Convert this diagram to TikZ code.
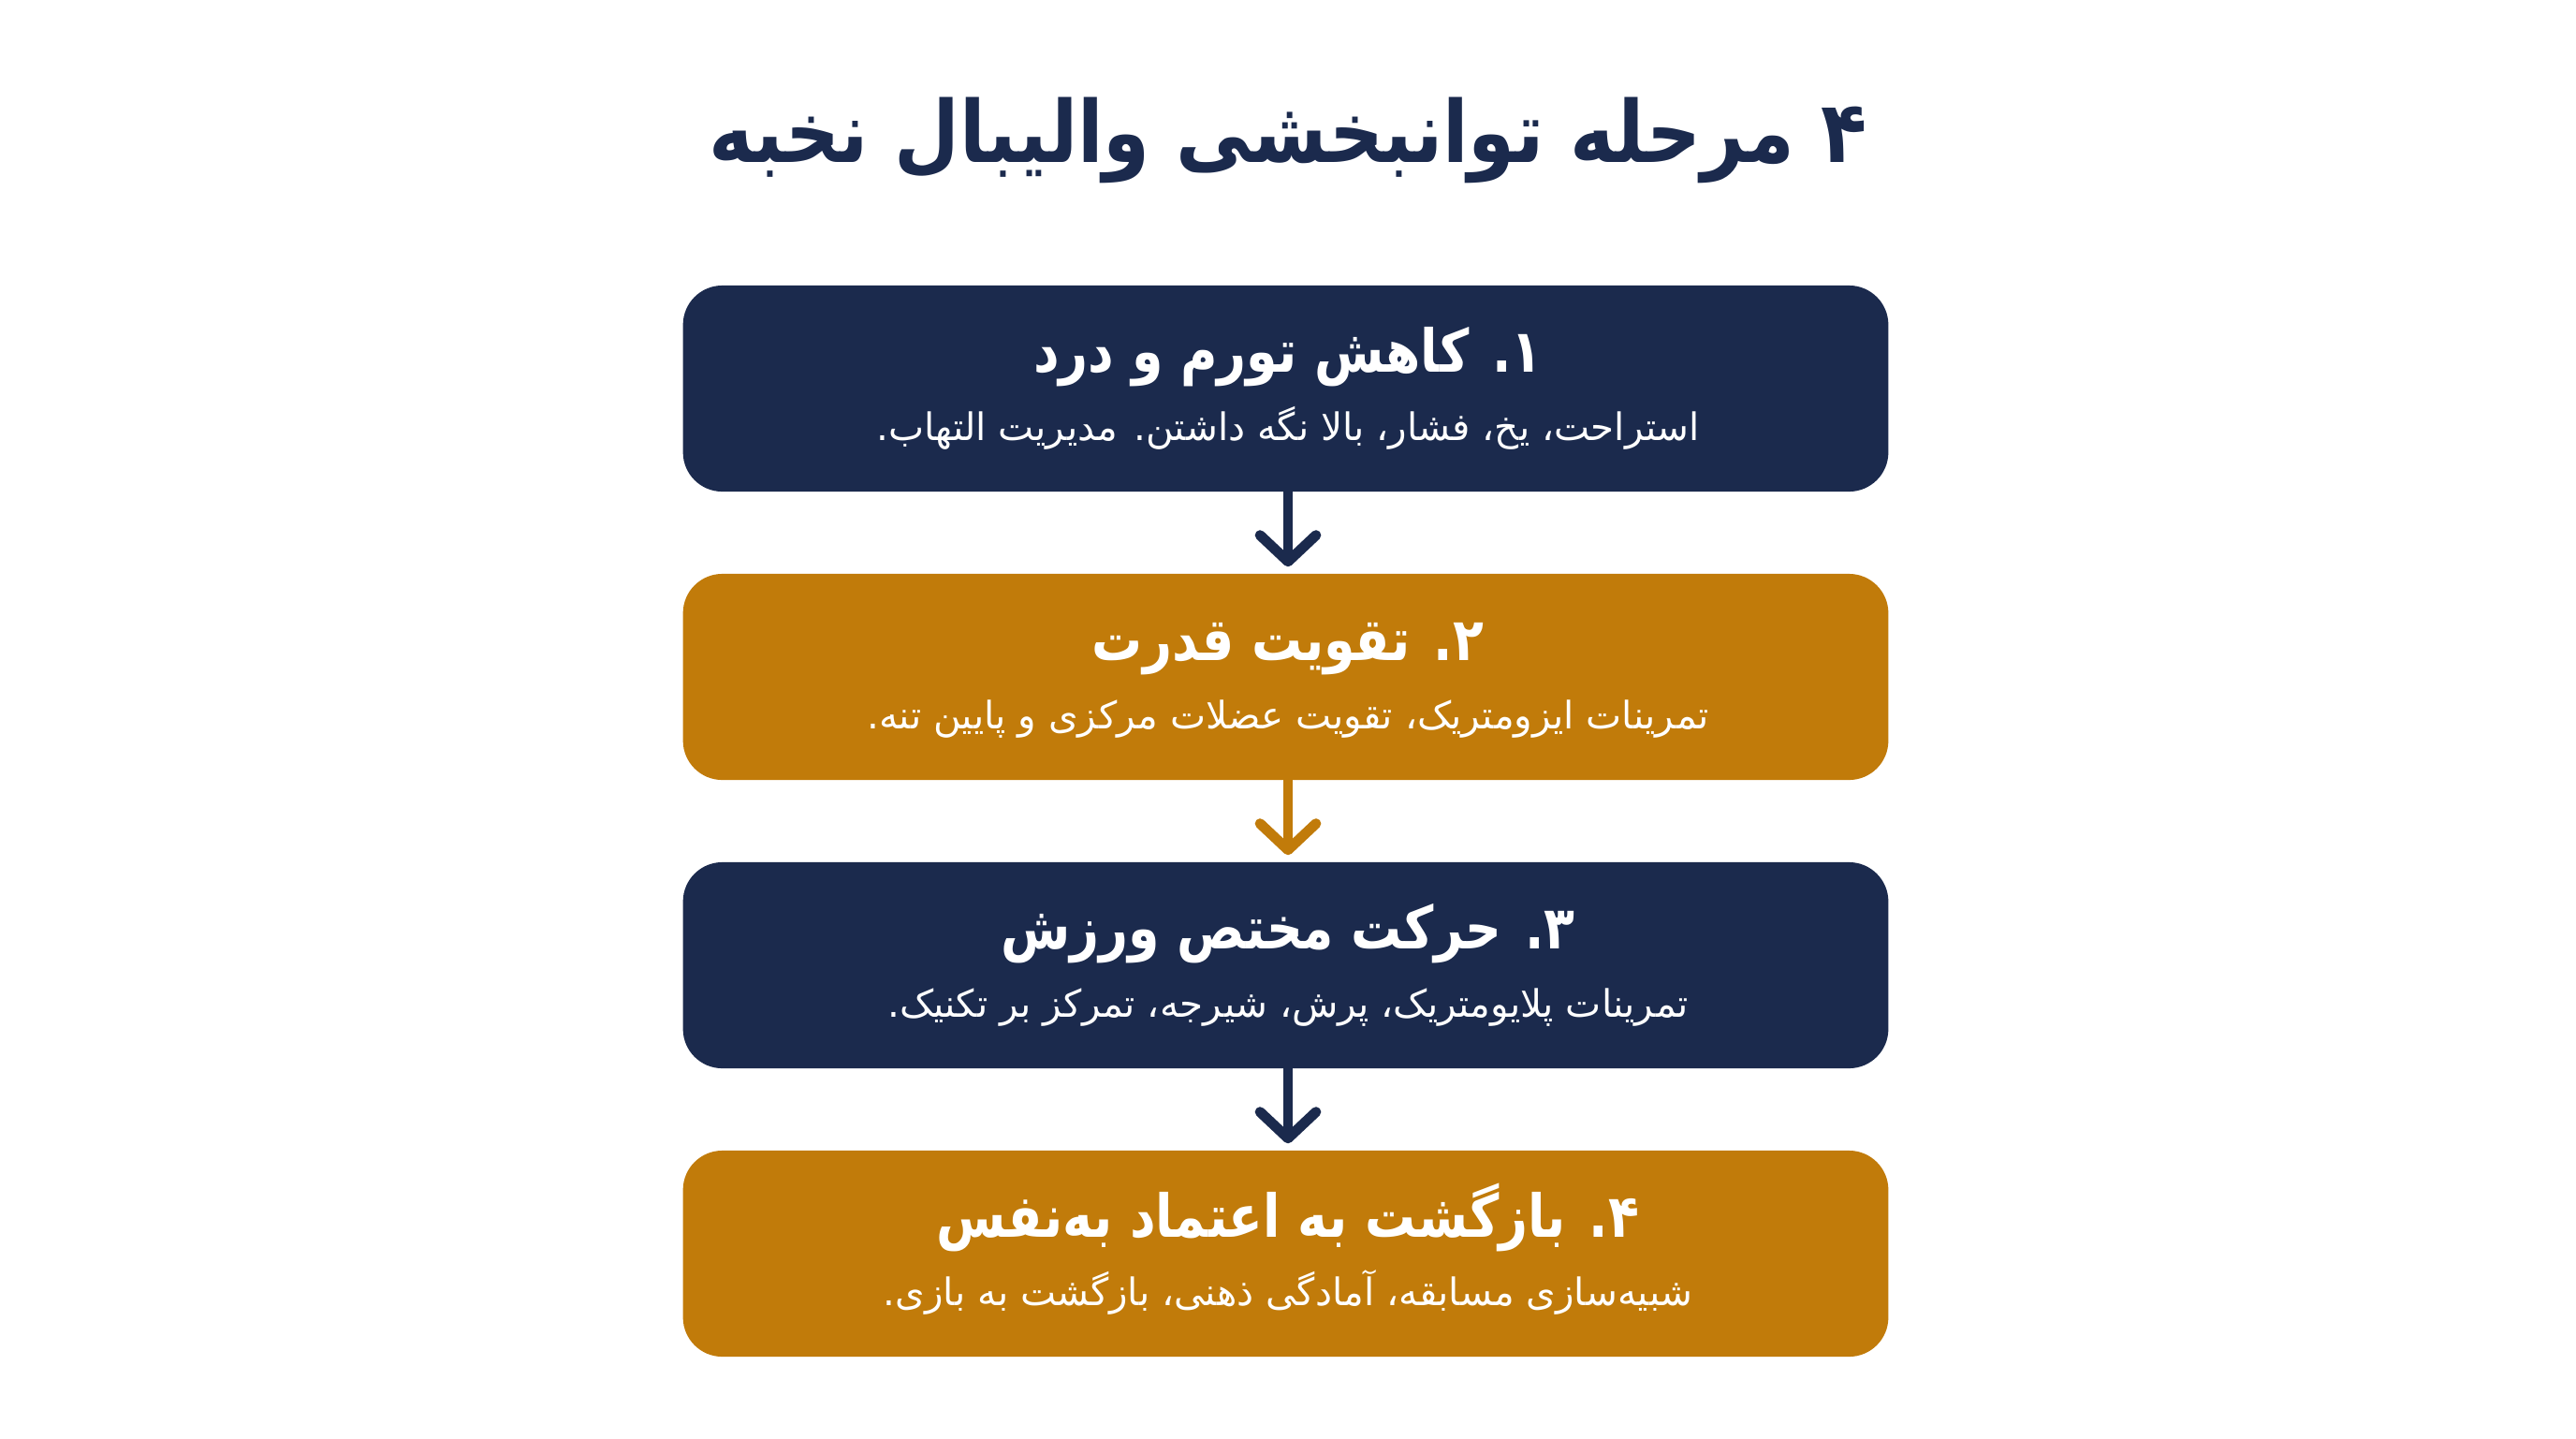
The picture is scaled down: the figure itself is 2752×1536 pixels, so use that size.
\documentclass[tikz,border=0pt]{standalone}
\usepackage{fontspec}
\usetikzlibrary{arrows.meta}
\TeXXeTstate=1
\newfontfamily\fa[Script=Arabic]{DejaVu Sans}
\newfontfamily\fanarrow[Script=Arabic, FakeStretch=0.85]{DejaVu Sans}
\newfontfamily\fatitle[Script=Arabic, FakeStretch=0.88]{DejaVu Sans}
\definecolor{navy}{RGB}{27,42,77}
\definecolor{gold}{RGB}{193,123,10}
\tikzset{
  stage/.style={rounded corners=0.42cm, minimum width=12.87cm, minimum height=2.2cm, inner sep=0pt, draw=none},
  headtxt/.style={anchor=base, text=white, inner sep=0pt, font=\fanarrow\bfseries\fontsize{18}{20}\selectfont},
  subtxt/.style={anchor=base, text=white, inner sep=0pt, font=\fa\fontsize{11.5}{14}\selectfont},
  conn/.style={line width=3.1pt, line cap=round, line join=round, shorten >=0.07cm,
    -{Straight Barb[length=8pt,width=17pt,line cap=round,line join=round]}}
}
\begin{document}
\begin{tikzpicture}[x=0.01cm,y=-0.01cm]
\useasboundingbox (0,0) rectangle (2752,1536);
\fill[white] (0,0) rectangle (2752,1536);
\node[anchor=base, text=navy, inner sep=0pt, font=\fatitle\bfseries\fontsize{26}{30}\selectfont] (title) at (1376,173) {\beginR ۴ مرحله توانبخشی والیبال نخبه\endR};

\node[stage, fill=navy] (s1) at (1373.5,415) {};
\node[stage, fill=gold] (s2) at (1373.5,723) {};
\node[stage, fill=navy] (s3) at (1373.5,1031) {};
\node[stage, fill=gold] (s4) at (1373.5,1339) {};

\node[headtxt] (h1) at (1376,397) {\beginR ۱. کاهش تورم و درد\endR};
\node[subtxt] (d1) at (1376,470) {\beginR استراحت، یخ، فشار، بالا نگه داشتن. مدیریت التهاب.\endR};
\node[headtxt] (h2) at (1376,705) {\beginR ۲. تقویت قدرت\endR};
\node[subtxt] (d2) at (1376,778) {\beginR تمرینات ایزومتریک، تقویت عضلات مرکزی و پایین تنه.\endR};
\node[headtxt] (h3) at (1376,1013) {\beginR ۳. حرکت مختص ورزش\endR};
\node[subtxt] (d3) at (1376,1086) {\beginR تمرینات پلایومتریک، پرش، شیرجه، تمرکز بر تکنیک.\endR};
\node[headtxt] (h4) at (1376,1321) {\beginR ۴. بازگشت به اعتماد به‌نفس\endR};
\node[subtxt] (d4) at (1376,1394) {\beginR شبیه‌سازی مسابقه، آمادگی ذهنی، بازگشت به بازی.\endR};

\draw[conn, navy] (s1.south -| 1376,0) -- (s2.north -| 1376,0);
\draw[conn, gold] (s2.south -| 1376,0) -- (s3.north -| 1376,0);
\draw[conn, navy] (s3.south -| 1376,0) -- (s4.north -| 1376,0);
\end{tikzpicture}
\end{document}
